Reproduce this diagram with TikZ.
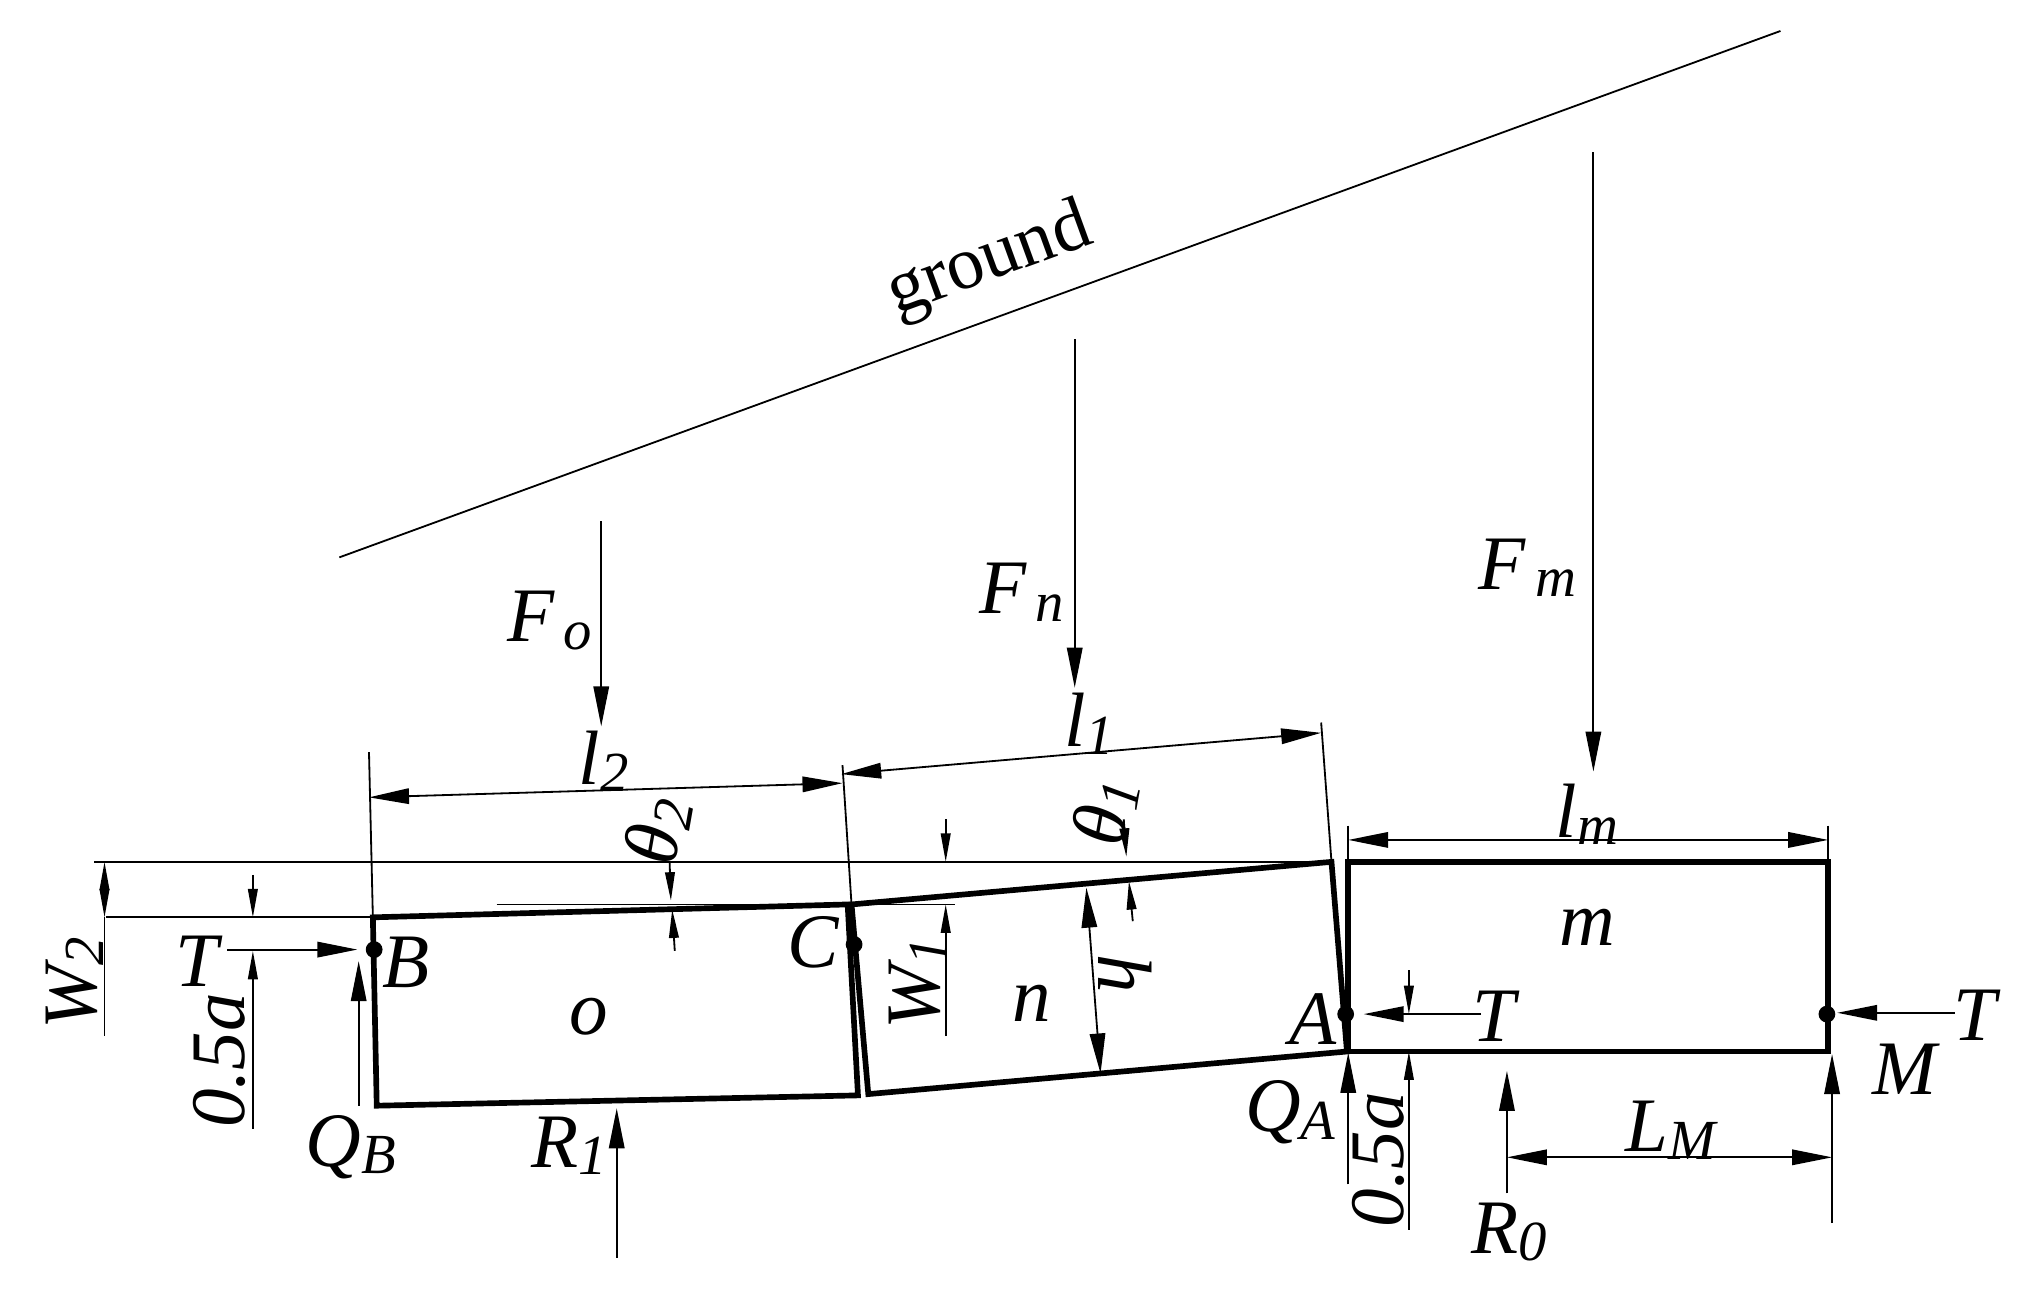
\documentclass[tikz,border=0pt]{standalone}
\usepackage{fontspec}
\setmainfont{Liberation Serif}
\usetikzlibrary{arrows.meta}
\newcommand{\subs}[1]{\raisebox{-.1em}{\fontsize{25}{25}\selectfont #1}}
\tikzset{
	>={Triangle[length=.62cm,width=.24cm]},
	body/.style={line width=2.5pt},
	dimline/.style={line width=.8pt},
	smalltip/.style={>={Triangle[length=.44cm,width=.15cm]}},
	lbl/.style={font=\fontsize{34}{34}\selectfont\itshape, inner sep=0pt},
	pivot/.style={circle, fill=black, inner sep=0pt, minimum size=.26cm}
}

\begin{document}
\begin{tikzpicture}[x=0.02cm, y=-0.02cm]
			\useasboundingbox (0,0) rectangle (1568,1001.4);
			% ground and loads
			\draw [dimline] (263,432) -- (1380,24);
			\node (ground) [lbl, rotate=20, font=\fontsize{33}{33}\selectfont] at (767,203) {ground};
			\draw [dimline, ->] (1235,118) -- (1235,598);
			\draw [dimline, ->] (833,263) -- (833,533);
			\draw [dimline, ->] (466,404) -- (466,563);
			\node (Fm) [lbl] at (1184,440) {F\subs{\,m}};
			\node (Fn) [lbl] at (792,459) {F\subs{\,n}};
			\node (Fo) [lbl] at (426,481) {F\subs{\,o}};
			% blocks
			\draw [body] (289,711) -- (657,701) -- (665,849) -- (292,857) -- cycle;
			\draw [body] (660,701) -- (1032,668) -- (1044,815) -- (673,848) -- cycle;
			\draw [body] (1045,668) rectangle (1417,815);
			\node (o) [lbl] at (456,788) {o};
			\node (n) [lbl] at (800,778) {n};
			\node (m) [lbl] at (1230,719) {m};
			% pivots
			\node (B) [pivot] at (290,736) {};
			\node (C) [pivot] at (662,732) {};
			\node (A) [pivot] at (1043,786) {};
			\node (M) [pivot] at (1416,786) {};
			\node (lblB) [lbl] at (315,746) {B};
			\node (lblC) [lbl] at (630,730) {C};
			\node (lblA) [lbl] at (1018,790) {A};
			\node (lblM) [lbl] at (1476,829) {M};
			% reference lines
			\draw [dimline] (73,668) -- (1032,668);
			\draw [dimline] (82,711) -- (289,711);
			\draw [dimline] (385,701) -- (740,701);
			\draw [dimline] (286,583) -- (289,711);
			\draw [dimline] (653,593) -- (660,701);
			\draw [dimline] (1024,560) -- (1032,668);
			\draw [dimline] (1045,640) -- (1045,668);
			\draw [dimline] (1417,640) -- (1417,668);
			% lengths
			\draw [dimline, <->] (286,618) -- (653,607);
			\draw [dimline, <->] (652,600) -- (1024,568);
			\draw [dimline, <->] (1045,651) -- (1417,651);
			\draw [dimline, <->] (1168,897) -- (1420,897);
			\node (l2) [lbl] at (468,590) {l\subs{2}};
			\node (l1) [lbl] at (844,561) {l\subs{1}};
			\node (lm) [lbl] at (1230,631) {l\subs{m}};
			\node (LM) [lbl] at (1295,876) {L\subs{M}};
			\draw [dimline, <->] (842,688) -- (853,832);
			\node (h) [lbl, rotate=-90] at (872,755) {h};
			% small dimensions
			\draw [dimline, smalltip, <->] (81,668) -- (81,711);
			\draw [dimline] (81,711) -- (81,803);
			\node (W2) [lbl, rotate=90] at (58,762) {W\subs{2}};
			\draw [dimline, smalltip, ->] (196,678) -- (196,711);
			\draw [dimline, smalltip, ->] (196,875) -- (196,737);
			\node (hA) [lbl, rotate=90] at (170,822) {0.5a};
			\draw [dimline, smalltip, ->] (733,635) -- (733,668);
			\draw [dimline, smalltip, ->] (733,803) -- (733,701);
			\node (W1) [lbl, rotate=90] at (712,762) {W\subs{1}};
			\draw [dimline, smalltip, ->] (1092,752) -- (1092,786);
			\draw [dimline, smalltip, ->] (1092,953) -- (1092,815);
			\node (hB) [lbl, rotate=90] at (1068,899) {0.5a};
			\draw [dimline, smalltip, ->] (519,668) -- (520,698);
			\draw [dimline, smalltip, ->] (523,737) -- (521,705);
			\node (t2) [lbl, rotate=80] at (510,644) {θ\subs{2}};
			\draw [dimline, smalltip, ->] (871,635) -- (873,664);
			\draw [dimline, smalltip, ->] (878,714) -- (875,683);
			\node (t1) [lbl, rotate=80] at (857,629) {θ\subs{1}};
			% forces
			\draw [dimline, ->] (176,736) -- (277,736);
			\node (TB) [lbl] at (153,745) {T};
			\draw [dimline, ->] (1148,786) -- (1057,786);
			\node (TA) [lbl] at (1158,788) {T};
			\draw [dimline, ->] (1515,785) -- (1424,785);
			\node (TM) [lbl] at (1531,787) {T};
			\draw [dimline, ->] (278,857) -- (278,745);
			\node (QB) [lbl] at (272,889) {Q\subs{B}};
			\draw [dimline, ->] (478,975) -- (478,859);
			\node (R1) [lbl] at (441,888) {R\subs{1}};
			\draw [dimline, ->] (1045,918) -- (1045,816);
			\node (QA) [lbl] at (1000,862) {Q\subs{A}};
			\draw [dimline, ->] (1168,925) -- (1168,830);
			\node (R0) [lbl] at (1170,955) {R\subs{0}};
			\draw [dimline, ->] (1420,948) -- (1420,817);
		\end{tikzpicture}
\end{document}
